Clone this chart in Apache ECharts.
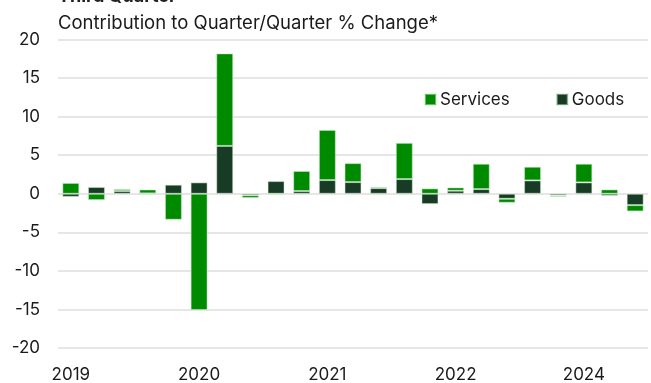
<!DOCTYPE html>
<html>
<head>
<meta charset="utf-8">
<style>html,body{margin:0;padding:0;background:#fff;}#c{width:651px;height:383px;}</style>
<script src="https://cdn.jsdelivr.net/npm/echarts@6/dist/echarts.min.js"></script>
</head>
<body>
<div id="c"></div>
<script>
var categories = ['2019Q1','2019Q2','2019Q3','2019Q4','2020Q1','2020Q2','2020Q3','2020Q4',
  '2021Q1','2021Q2','2021Q3','2021Q4','2022Q1','2022Q2','2022Q3','2022Q4',
  '2023Q1','2023Q2','2023Q3','2023Q4','2024Q1','2024Q2','2024Q3'];
var goods =    [-0.4, 0.87, 0.35, 0.05, 1.17, 1.47, 6.2, -0.2, 1.64, 0.35, 1.77, 1.51, 0.73, 1.9, -1.34, 0.39, 0.6, -0.65, 1.73, -0.22, 1.47, -0.26, -1.47];
var services = [1.4, -0.82, 0.25, 0.5, -3.37, -15.07, 12.0, -0.35, -0.1, 2.6, 6.5, 2.46, 0.17, 4.7, 0.69, 0.43, 3.29, -0.52, 1.77, -0.17, 2.42, 0.56, -0.82];
var yTicks = [-20, -15, -10, -5, 0, 5, 10, 15, 20];

var FONT = 'Inter';
var chart = echarts.init(document.getElementById('c'), null, {renderer: 'canvas'});
chart.setOption({
  animation: false,
  backgroundColor: '#fff',
  textStyle: {fontFamily: FONT},
  title: [
    {text: 'Third Quarter', left: 53, top: -17.5, textStyle: {fontFamily: FONT, fontSize: 18, fontWeight: 'bold', color: '#222'}},
    {text: 'Contribution to Quarter/Quarter % Change*', left: 53, top: 9, textStyle: {fontFamily: FONT, fontSize: 18.5, fontWeight: 'normal', color: '#1a1a1a'}}
  ],
  legend: {
    left: 419, top: 86,
    icon: 'rect', itemWidth: 11, itemHeight: 11, itemGap: 46,
    textStyle: {fontFamily: FONT, fontSize: 17, color: '#1a1a1a', padding: [0, 0, 0, -1]},
    data: ['Services', 'Goods']
  },
  grid: {left: 58, right: 3, top: 39.5, bottom: 34.5, containLabel: false},
  xAxis: {
    type: 'category', data: categories,
    axisLine: {show: false}, axisTick: {show: false},
    axisLabel: {interval: 4, margin: 18, fontFamily: FONT, fontSize: 17, color: '#1a1a1a',
      formatter: function (v) { return v.slice(0, 4); }}
  },
  yAxis: {
    type: 'value', min: yTicks[0], max: yTicks[yTicks.length - 1], interval: 5,
    axisLine: {show: false}, axisTick: {show: false},
    axisLabel: {margin: 18, fontFamily: FONT, fontSize: 17, color: '#1a1a1a'},
    splitLine: {lineStyle: {color: '#dedede', width: 1.5}}
  },
  series: [
    {name: 'Goods', type: 'bar', stack: 'a', data: goods, barCategoryGap: '34%',
      itemStyle: {color: '#173b24', borderColor: 'rgba(200,230,200,0.5)', borderWidth: 1}},
    {name: 'Services', type: 'bar', stack: 'a', data: services,
      itemStyle: {color: '#008a00', borderColor: 'rgba(200,240,200,0.5)', borderWidth: 1}}
  ]
});
</script>
</body>
</html>
